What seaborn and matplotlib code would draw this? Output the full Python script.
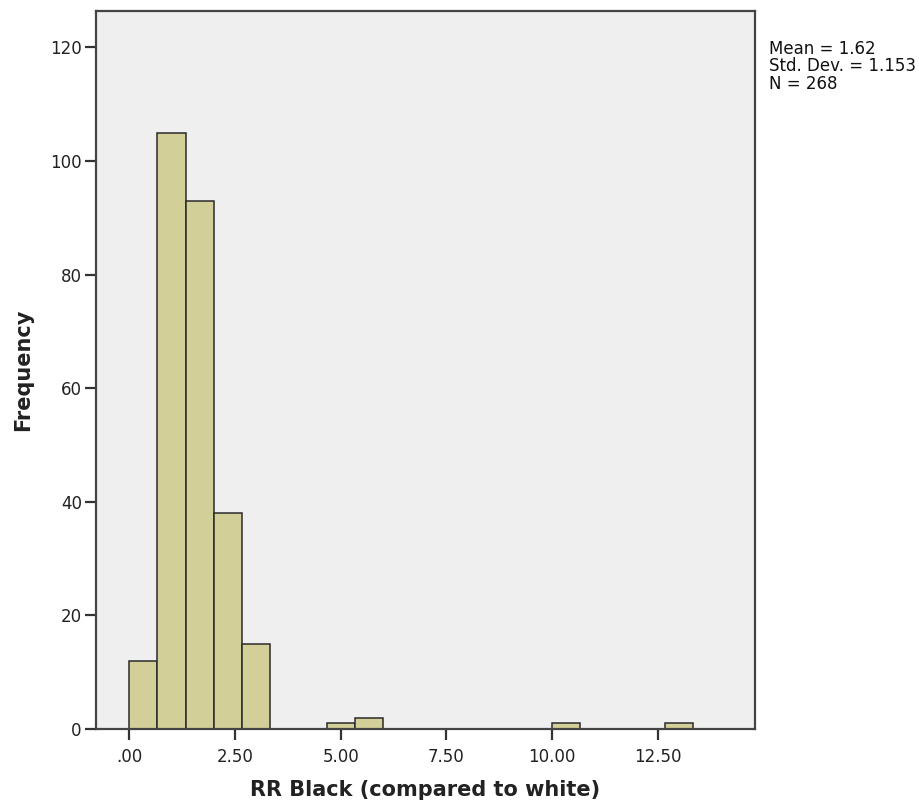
import numpy as np
import pandas as pd
import matplotlib
matplotlib.use("Agg")
import matplotlib.pyplot as plt
import seaborn as sns

# Histogram bins (width 2/3) and observed frequencies for each bin
bin_width = 2.0 / 3.0
bin_edges = [i * bin_width for i in range(21)]
counts = [12, 105, 93, 38, 15, 0, 0, 1, 2, 0, 0, 0, 0, 0, 0, 1, 0, 0, 0, 1]

x_ticks = [0.0, 2.5, 5.0, 7.5, 10.0, 12.5]
x_tick_labels = [".00", "2.50", "5.00", "7.50", "10.00", "12.50"]
y_ticks = [0, 20, 40, 60, 80, 100, 120]

stats_lines = ["Mean = 1.62", "Std. Dev. = 1.153", "N = 268"]
x_label = "RR Black (compared to white)"
y_label = "Frequency"

df = pd.DataFrame({
    "rr": [(a + b) / 2 for a, b in zip(bin_edges[:-1], bin_edges[1:])],
    "freq": counts,
})

sns.set_style("white")
plt.rcParams["font.family"] = ["DejaVu Sans"]

fig = plt.figure(figsize=(9.2, 8.01), dpi=100)
ax = fig.add_axes([0.104, 0.0899, 0.717, 0.8963])
ax.set_facecolor("#efefef")

sns.histplot(
    data=df, x="rr", weights="freq", bins=bin_edges, ax=ax,
    color="#d3cf98", edgecolor="#2a2a2a", linewidth=1.1, alpha=1.0,
)

ax.set_xlim(-0.79, 14.8)
ax.set_ylim(0, 126.4)
ax.set_xticks(x_ticks)
ax.set_xticklabels(x_tick_labels)
ax.set_yticks(y_ticks)

for side in ["left", "right", "top", "bottom"]:
    ax.spines[side].set_visible(True)
    ax.spines[side].set_color("#444444")
    ax.spines[side].set_linewidth(1.6)

ax.tick_params(axis="both", direction="out", length=8, width=1.6,
               color="#333333", labelsize=12, labelcolor="#222222")
ax.tick_params(axis="x", pad=6, bottom=True)
ax.tick_params(axis="y", left=True, pad=2)

ax.set_xlabel(x_label, fontsize=15, fontweight="bold", color="#222222", labelpad=10)
ax.set_ylabel(y_label, fontsize=15, fontweight="bold", color="#222222", labelpad=12)

fig.text(0.836, 0.950, "\n".join(stats_lines), fontsize=12, color="#111111",
         va="top", ha="left", linespacing=0.95)

fig.savefig("out.png", dpi=100)
